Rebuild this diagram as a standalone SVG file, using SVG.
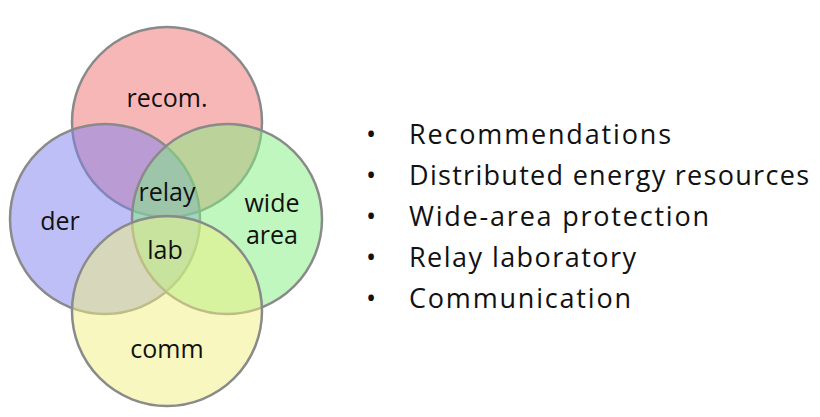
<svg xmlns="http://www.w3.org/2000/svg" width="820" height="417" viewBox="0 0 820 417">
<style>
.c{stroke:#8a8a8a;stroke-width:2.5;fill-opacity:0.5}
text{font-family:"Open Sans","Liberation Sans",sans-serif;font-size:25px;fill:#111}
.l{text-anchor:middle}
.t{font-size:27px}
</style>
<rect width="820" height="417" fill="#fff"/>
<g id="nodes">
<g id="recom"><circle class="c" cx="167" cy="122" r="95" fill="#f07070"/></g>
<g id="der"><circle class="c" cx="105" cy="219" r="95" fill="#8080f0"/></g>
<g id="wide"><circle class="c" cx="227" cy="219" r="95" fill="#80f080"/></g>
<g id="comm"><circle class="c" cx="167" cy="311" r="95" fill="#f0f080"/></g>
<text class="l" x="167" y="107">recom.</text>
<text class="l" x="60" y="230">der</text>
<text class="l" x="272" y="212">wide</text>
<text class="l" x="272" y="244">area</text>
<text class="l" x="167" y="358">comm</text>
<text class="l" x="167" y="201">relay</text>
<text class="l" x="165" y="259">lab</text>
</g>
<g id="connectors"></g>
<g id="list" class="t">
<text class="t" x="366" y="144">•</text><text class="t" x="409" y="144" textLength="262">Recommendations</text>
<text class="t" x="366" y="185">•</text><text class="t" x="409" y="185" textLength="400">Distributed energy resources</text>
<text class="t" x="366" y="226">•</text><text class="t" x="409" y="226" textLength="300">Wide-area protection</text>
<text class="t" x="366" y="267">•</text><text class="t" x="409" y="267" textLength="227">Relay laboratory</text>
<text class="t" x="366" y="308">•</text><text class="t" x="409" y="308" textLength="222">Communication</text>
</g>
</svg>
